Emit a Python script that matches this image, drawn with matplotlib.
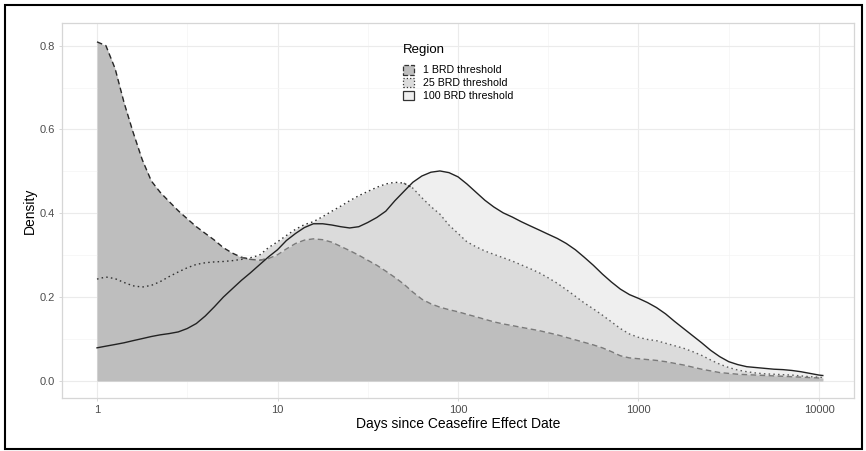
import numpy as np
import matplotlib.pyplot as plt
from matplotlib.patches import Patch, Rectangle
from matplotlib.ticker import FixedLocator, NullFormatter

plt.rcParams['font.family'] = ['Liberation Sans', 'DejaVu Sans']

# days since ceasefire (reading positions on the log axis)
days = [1, 1.12, 1.26, 1.41, 1.58, 1.78, 2.0, 2.24, 2.51, 2.82,
        3.16, 3.55, 3.98, 4.47, 5.01, 5.62, 6.31, 7.08, 7.94, 8.91,
        10, 11.2, 12.6, 14.1, 15.8, 17.8, 20.0, 22.4, 25.1, 28.2,
        31.6, 35.5, 39.8, 44.7, 50.1, 56.2, 63.1, 70.8, 79.4, 89.1,
        100, 112, 126, 141, 158, 178, 200, 224, 251, 282,
        316, 355, 398, 447, 501, 562, 631, 708, 794, 891,
        1000, 1122, 1259, 1413, 1585, 1778, 1995, 2239, 2512, 2818,
        3162, 3548, 3981, 4467, 5012, 5623, 6310, 7079, 7943, 8913,
        10000, 10500]

brd1 = [0.809, 0.800, 0.745, 0.665, 0.595, 0.528, 0.477, 0.450, 0.428, 0.406,
        0.387, 0.368, 0.352, 0.336, 0.318, 0.305, 0.295, 0.290, 0.288, 0.292,
        0.301, 0.315, 0.328, 0.336, 0.339, 0.337, 0.331, 0.321, 0.311, 0.300,
        0.288, 0.276, 0.262, 0.247, 0.231, 0.212, 0.195, 0.184, 0.176, 0.170,
        0.165, 0.159, 0.153, 0.147, 0.141, 0.136, 0.132, 0.128, 0.124, 0.120,
        0.115, 0.110, 0.104, 0.098, 0.092, 0.086, 0.079, 0.070, 0.060, 0.055,
        0.053, 0.051, 0.049, 0.046, 0.042, 0.038, 0.033, 0.028, 0.024, 0.020,
        0.018, 0.016, 0.015, 0.014, 0.013, 0.012, 0.011, 0.010, 0.009, 0.008,
        0.007, 0.006]

brd25 = [0.243, 0.248, 0.244, 0.235, 0.227, 0.224, 0.228, 0.237, 0.249, 0.260,
         0.270, 0.278, 0.282, 0.284, 0.285, 0.287, 0.290, 0.294, 0.300, 0.318,
         0.332, 0.347, 0.362, 0.373, 0.380, 0.392, 0.405, 0.417, 0.430, 0.442,
         0.452, 0.462, 0.470, 0.474, 0.472, 0.460, 0.437, 0.416, 0.398, 0.372,
         0.352, 0.332, 0.320, 0.310, 0.302, 0.294, 0.286, 0.277, 0.268, 0.258,
         0.246, 0.233, 0.218, 0.202, 0.186, 0.172, 0.157, 0.141, 0.125, 0.112,
         0.104, 0.099, 0.096, 0.090, 0.084, 0.078, 0.070, 0.061, 0.050, 0.040,
         0.032, 0.026, 0.022, 0.019, 0.017, 0.016, 0.015, 0.014, 0.012, 0.010,
         0.009, 0.008]

brd100 = [0.079, 0.083, 0.087, 0.091, 0.096, 0.101, 0.106, 0.110, 0.113, 0.117,
          0.125, 0.137, 0.155, 0.177, 0.200, 0.220, 0.240, 0.258, 0.277, 0.296,
          0.313, 0.335, 0.352, 0.366, 0.375, 0.375, 0.372, 0.368, 0.365, 0.368,
          0.378, 0.390, 0.405, 0.430, 0.452, 0.474, 0.489, 0.498, 0.501, 0.497,
          0.487, 0.470, 0.450, 0.431, 0.415, 0.401, 0.391, 0.380, 0.370, 0.360,
          0.350, 0.340, 0.328, 0.313, 0.295, 0.276, 0.255, 0.236, 0.219, 0.206,
          0.197, 0.187, 0.175, 0.160, 0.142, 0.125, 0.108, 0.091, 0.073, 0.058,
          0.046, 0.039, 0.034, 0.032, 0.030, 0.028, 0.027, 0.025, 0.022, 0.018,
          0.014, 0.013]

labels = ['1 BRD threshold', '25 BRD threshold', '100 BRD threshold']
fills = ['#BEBEBE', '#DBDBDB', '#EFEFEF']

x = np.array(days)
d1, d2, d3 = np.array(brd1), np.array(brd25), np.array(brd100)

fig = plt.figure(figsize=(8.66, 4.51), dpi=100)
ax = fig.add_axes([62 / 866, 53 / 451, 792 / 866, 375 / 451])

# fills, darkest drawn last so it sits on top
ax.fill_between(x, 0, d3, color=fills[2], lw=0, zorder=2)
ax.fill_between(x, 0, d2, color=fills[1], lw=0, zorder=3)
ax.fill_between(x, 0, d1, color=fills[0], lw=0, zorder=4)


def dilate(m):
    out = m.copy()
    out[1:] |= m[:-1]
    out[:-1] |= m[1:]
    return out


def draw_line(y, mask, color, ls, z):
    yy = np.where(dilate(mask), y, np.nan)
    ax.plot(x, yy, color=color, lw=1.0, linestyle=ls, zorder=z,
            solid_joinstyle='round', dash_capstyle='butt')


dash = (0, (4, 2.5))
dot = (0, (1.1, 2.3))

# dashed line gets lighter where the other groups' areas cover it
n_above = (d2 > d1).astype(int) + (d3 > d1).astype(int)
draw_line(d1, n_above == 0, '#262626', dash, 5)
draw_line(d1, n_above == 1, '#5a5a5a', dash, 5)
draw_line(d1, n_above == 2, '#7a7a7a', dash, 5)

draw_line(d2, d3 <= d2, '#303030', dot, 6)
draw_line(d2, d3 > d2, '#5e5e5e', dot, 6)

ax.plot(x, d3, color='#222222', lw=1.0, zorder=7, solid_joinstyle='round')

ax.set_xscale('log')
ax.set_xlim(10 ** -0.194, 10 ** 4.194)
ax.set_ylim(-0.0407, 0.854)

ax.xaxis.set_major_locator(FixedLocator([1, 10, 100, 1000, 10000]))
ax.set_xticklabels(['1', '10', '100', '1000', '10000'])
ax.xaxis.set_minor_locator(FixedLocator([10 ** 0.5, 10 ** 1.5, 10 ** 2.5, 10 ** 3.5]))
ax.xaxis.set_minor_formatter(NullFormatter())
ax.set_yticks([0.0, 0.2, 0.4, 0.6, 0.8])
ax.set_yticklabels(['0.0', '0.2', '0.4', '0.6', '0.8'])
ax.set_yticks([0.1, 0.3, 0.5, 0.7], minor=True)

ax.grid(which='major', color='#EBEBEB', lw=0.8, zorder=0)
ax.grid(which='minor', color='#F4F4F4', lw=0.5, zorder=0)
ax.set_axisbelow(True)
for s in ax.spines.values():
    s.set_color('#D6D6D6')
    s.set_linewidth(0.9)

ax.tick_params(which='major', length=2.2, width=0.5, color='#C8C8C8',
               labelsize=8, labelcolor='#4D4D4D', pad=3)
ax.tick_params(which='minor', length=0)

ax.set_xlabel('Days since Ceasefire Effect Date', fontsize=10)
ax.set_ylabel('Density', fontsize=10)
ax.xaxis.set_label_coords(0.5, -0.05)
ax.xaxis.label.set_va('top')
ax.yaxis.set_label_coords(-0.041, 0.5)
ax.yaxis.label.set_va('center')

# legend: title placed separately to match the wider gap below it
fig.text(403 / 866, 1 - 50 / 451, 'Region', fontsize=9.5, va='center', ha='left')
handles = [
    Patch(facecolor=fills[0], edgecolor='#333333', linestyle='--', lw=0.9),
    Patch(facecolor=fills[1], edgecolor='#333333', linestyle=':', lw=0.9),
    Patch(facecolor=fills[2], edgecolor='#333333', linestyle='-', lw=0.9),
]
leg = ax.legend(handles, labels, loc='upper left',
                bbox_to_anchor=(403 / 866, 1 - 65 / 451),
                bbox_transform=fig.transFigure, frameon=False,
                fontsize=7.7, handlelength=1.0, handleheight=1.0,
                handletextpad=0.9, labelspacing=0.22,
                borderpad=0, borderaxespad=0)
leg.set_zorder(10)

fig.patches.append(Rectangle((5 / 866, 2 / 451), 857 / 866, 444 / 451,
                             transform=fig.transFigure, fill=False,
                             edgecolor='black', lw=1.5))

fig.savefig('out.png', dpi=100)
